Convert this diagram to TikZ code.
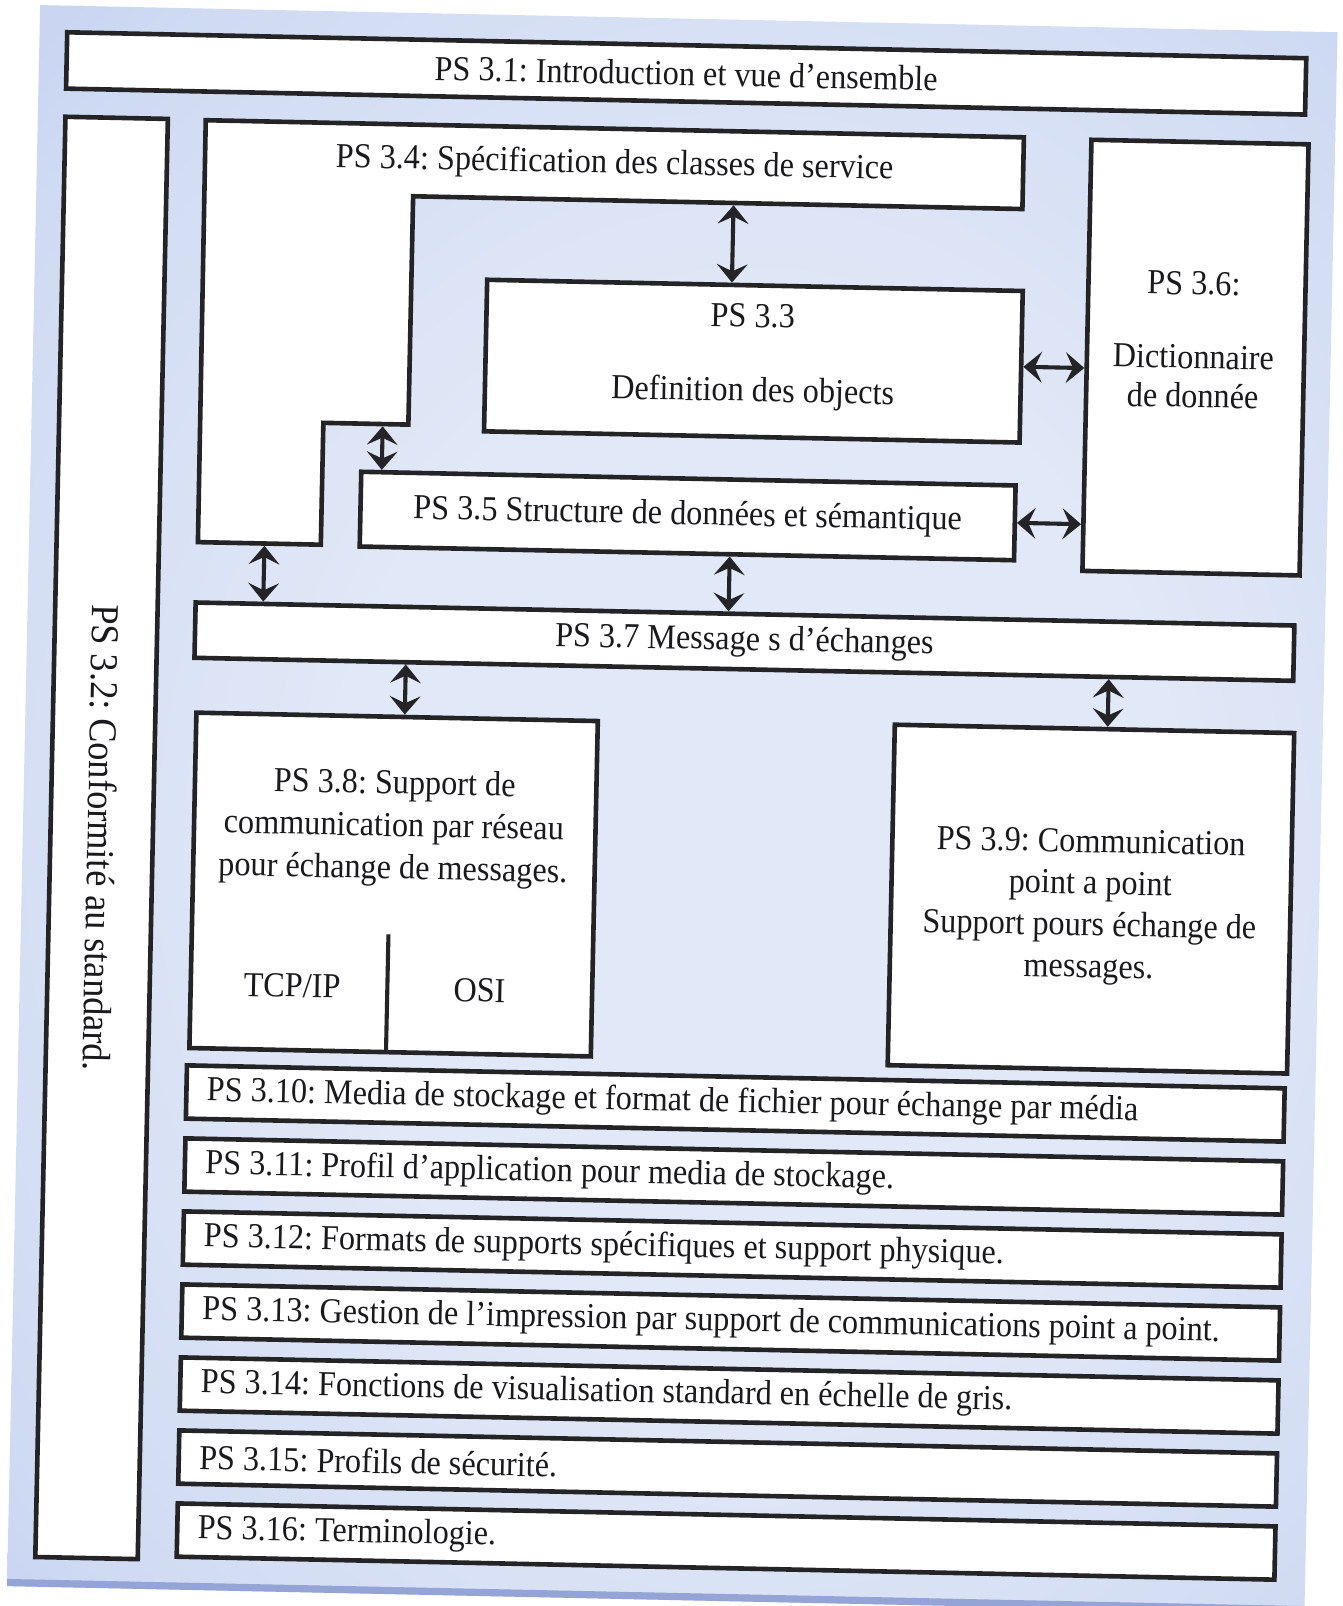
\documentclass[tikz,border=0pt]{standalone}
\usepackage{fontspec}
\setmainfont[FakeStretch=0.92]{Liberation Serif}
\usetikzlibrary{arrows.meta}

\definecolor{inkline}{RGB}{36,36,38}
\definecolor{inktext}{RGB}{26,26,28}
\definecolor{paperin}{RGB}{225,232,247}
\definecolor{papermid}{RGB}{208,219,243}
\definecolor{paperout}{RGB}{182,197,236}
\definecolor{paperedge}{RGB}{170,186,231}
\definecolor{paperrim}{RGB}{148,164,214}

% soft light centre fading to periwinkle towards the edges of the sheet
\pgfdeclareradialshading{paperglow}{\pgfpoint{4bp}{-2bp}}{%
  color(0bp)=(paperin); color(16bp)=(paperin); color(32bp)=(papermid);
  color(48bp)=(paperout); color(72bp)=(paperedge)}

\newcommand{\boxfont}{\fontsize{34.2}{38}\selectfont}
\newcommand{\sidefont}{\fontsize{38.6}{42}\selectfont}

\begin{document}
\frenchspacing
\begin{tikzpicture}[x=1pt, y=-1pt,
  box/.style={draw=inkline, line width=4.5pt, fill=white, text=inktext,
              inner sep=0pt, font=\boxfont, align=center},
  stripe/.style={box, minimum height=52pt, text width=1032pt,
                 inner xsep=20pt, inner ysep=0pt, align=flush left},
  lbl/.style={text=inktext, inner sep=0pt, font=\boxfont, align=center},
  link/.style={draw=inkline, line width=4pt,
               {Stealth[length=18pt, width=30pt, inset=7pt]}-{Stealth[length=18pt, width=30pt, inset=7pt]}},
]
\useasboundingbox (0,0) rectangle (1311,1568);
\fill[white] (0,0) rectangle (1311,1568);

\begin{scope}[rotate around={-1.2:(655,784)}, transform shape]
  % the blue sheet
  \shade[shading=paperglow] (23,18) rectangle (1290,1562);
  \draw[paperrim, line width=7pt] (23,1558.5) -- (1290,1558.5);

  % top banner and side column
  \node[box, minimum width=1210pt, minimum height=55pt] (ps31) at (655,71.5)
    {PS 3.1: Introduction et vue d’ensemble};
  \node[box, rotate=-90, minimum width=1406.5pt, minimum height=100pt, font=\sidefont]
    (ps32) at (100,829.75) {PS 3.2: Conformité au standard.};

  % PS 3.4: L-shaped block
  \draw[box] (187,127) -- (986,127) -- (986,197) -- (391,197) -- (391,420)
    -- (308,420) -- (308,539) -- (188,539) -- cycle;
  \node[lbl] (ps34) at (587,162) {PS 3.4: Spécification des classes de service};
  \coordinate (p34a) at (704,199.25);
  \coordinate (p34b) at (366,422.25);
  \coordinate (p34c) at (253,541.25);

  % object definitions, dictionary, data structure
  \node[box, minimum width=523pt, minimum height=148pt] (ps33) at (726.5,351) {};
  \node[lbl] (ps33a) at (725,307) {PS 3.3};
  \node[lbl] (ps33b) at (726.5,382) {Definition des objects};

  \node[box, minimum width=212pt, minimum height=421pt] (ps36) at (1158,338.5) {};
  \node[lbl] (ps36a) at (1155,266) {PS 3.6:};
  \node[lbl] (ps36b) at (1156,357) {Dictionnaire\\de donnée};

  \node[box, minimum width=639pt, minimum height=73pt] (ps35) at (665.5,503.5)
    {PS 3.5 Structure de données et sémantique};

  % message exchange
  \node[box, minimum width=1073pt, minimum height=54pt] (ps37) at (723.5,625)
    {PS 3.7 Message s d’échanges};

  \node[box, minimum width=392pt, minimum height=327.5pt] (ps38) at (386,869.25) {};
  \node[lbl, font=\fontsize{34.2}{41.5}\selectfont] (ps38t) at (385,814)
    {PS 3.8: Support de\\communication par réseau\\pour échange de messages.};
  \draw[inkline, line width=4pt] (382,918) -- (382,1033);
  \node[lbl] (tcp) at (289,970) {TCP/IP};
  \node[lbl] (osi) at (472,971) {OSI};

  \node[box, minimum width=390pt, minimum height=332.5pt] (ps39) at (1067,869.25) {};
  \node[lbl, font=\fontsize{34.2}{40.7}\selectfont] (ps39t) at (1066,877)
    {PS 3.9: Communication\\point a point\\Support pours échange de\\messages.};

  % media and service parts
  \node[stripe] (ps310) at (724,1076)   {PS 3.10: Media de stockage et format de fichier pour échange par média};
  \node[stripe] (ps311) at (724,1147.3) {PS 3.11: Profil d’application pour media de stockage.};
  \node[stripe] (ps312) at (724,1218.6) {PS 3.12: Formats de supports spécifiques et support physique.};
  \node[stripe] (ps313) at (724,1289.9) {PS 3.13: Gestion de l’impression par support de communications point a point.};
  \node[stripe] (ps314) at (724,1361.2) {PS 3.14: Fonctions de visualisation standard en échelle de gris.};
  \node[stripe] (ps315) at (724,1432.5) {PS 3.15: Profils de sécurité.};
  \node[stripe] (ps316) at (724,1503.8) {PS 3.16: Terminologie.};

  % two-way links
  \draw[link] (p34a) -- (p34a |- ps33.north);
  \draw[link] (ps33.east) -- (ps33.east -| ps36.west);
  \draw[link] (ps35.east) -- (ps35.east -| ps36.west);
  \draw[link] (p34b) -- (p34b |- ps35.north);
  \draw[link] (p34c) -- (p34c |- ps37.north);
  \coordinate (s6) at ([xshift=42pt]ps35.south);
  \draw[link] (s6) -- (s6 |- ps37.north);
  \coordinate (s7) at ([xshift=7.5pt]ps38.north);
  \draw[link] (s7 |- ps37.south) -- (s7);
  \coordinate (s8) at ([xshift=13pt]ps39.north);
  \draw[link] (s8 |- ps37.south) -- (s8);
\end{scope}
\end{tikzpicture}
\end{document}
